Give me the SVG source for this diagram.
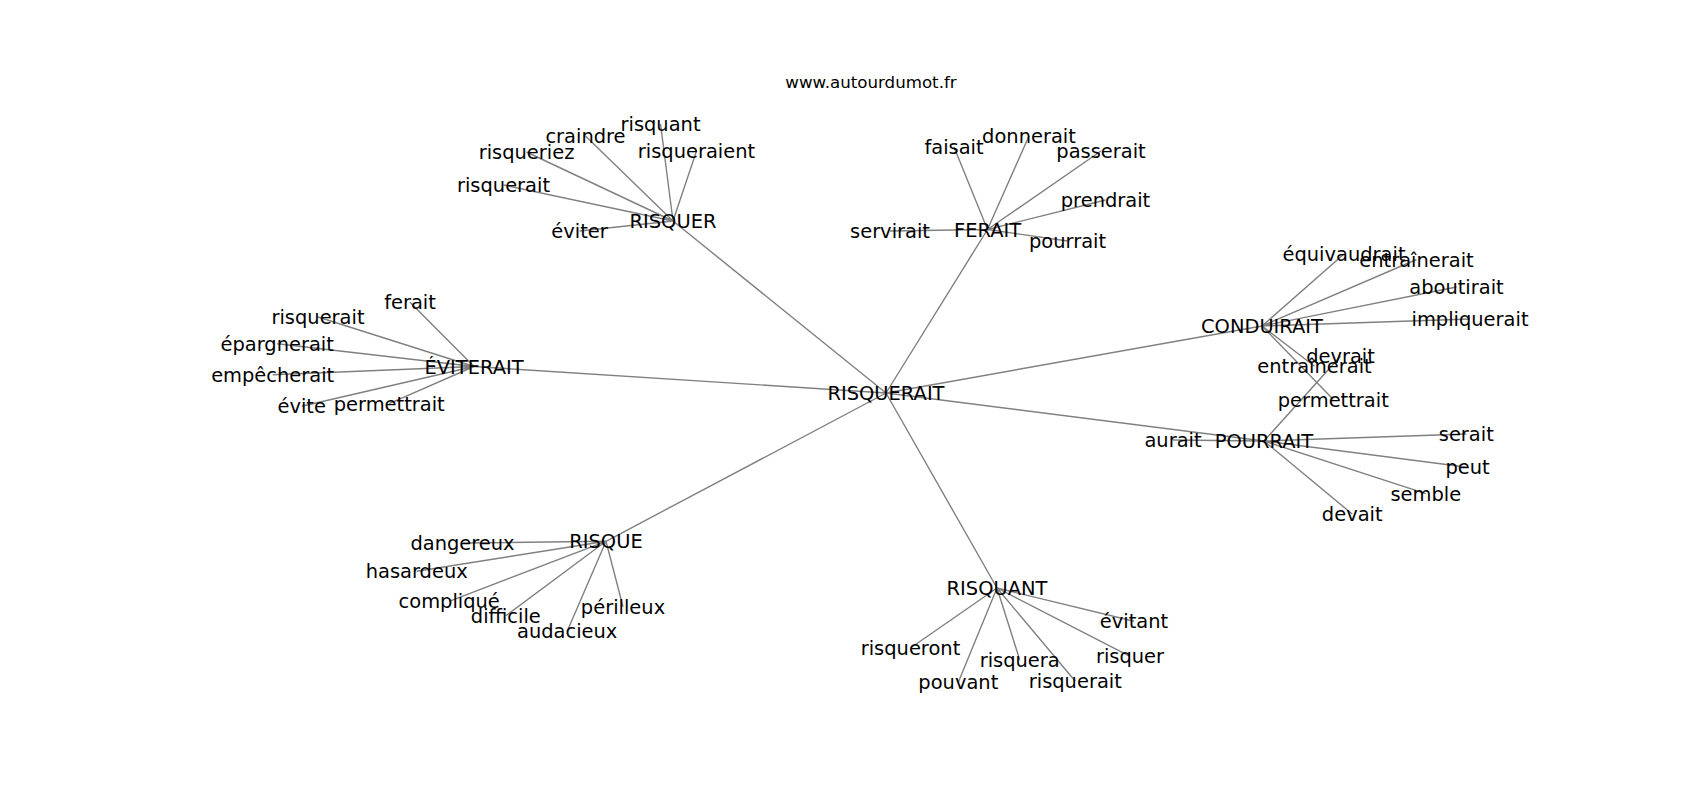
<svg xmlns="http://www.w3.org/2000/svg" width="1700" height="800" viewBox="0 0 1700 800">
<style>
.e{stroke:#808080;stroke-width:1.4;fill:none}
text{font-family:"DejaVu Sans","Liberation Sans",sans-serif;font-size:19.44px;fill:#000;text-anchor:middle}
.t{font-size:16.67px}
</style>
<rect width="1700" height="800" fill="#fff"/>
<text class="t" x="871" y="87.7">www.autourdumot.fr</text>
<g id="edges" class="e">
<path d="M886 393L673 221M886 393L987.5 229.5M886 393L1262 326M886 393L1264 441M886 393L997 588M886 393L606 541.3M886 393L474 366.5"/>
<path d="M673 221L660.5 124M673 221L585.5 136M673 221L526.5 152M673 221L696.5 151M673 221L503.5 185M673 221L579.5 231"/>
<path d="M987.5 229.5L954 147M987.5 229.5L1029 136M987.5 229.5L1101 151M987.5 229.5L1105.5 200M987.5 229.5L890 231M987.5 229.5L1067.5 241"/>
<path d="M1262 326L1344 254M1262 326L1416.5 259.5M1262 326L1456.5 287M1262 326L1470 319M1262 326L1314.5 366.3M1262 326L1333.3 399.5"/>
<path d="M1264 441L1173 440M1264 441L1466.3 434M1264 441L1467.5 467.3M1264 441L1425.8 493.7M1264 441L1352.2 514M1264 441L1340.5 356.3"/>
<path d="M997 588L1134 621.3M997 588L1130 656.3M997 588L910.5 648M997 588L1019.7 659.7M997 588L958.3 682.3M997 588L1075.3 681.3"/>
<path d="M606 541.3L462.5 543M606 541.3L416.7 571.3M606 541.3L449.2 601.3M606 541.3L505.8 615.7M606 541.3L567.2 631.3M606 541.3L623 606.7"/>
<path d="M474 366.5L410 302.3M474 366.5L318 317M474 366.5L277.2 343.7M474 366.5L272.7 374.7M474 366.5L301.7 406.3M474 366.5L389.2 403.7"/>
</g>
<g id="n-risquerait-center"><text x="886" y="400">RISQUERAIT</text></g>
<g id="n-risquer"><text x="673" y="228">RISQUER</text></g>
<g id="n-risquer-risquant"><text x="660.5" y="131">risquant</text></g>
<g id="n-risquer-craindre"><text x="585.5" y="143">craindre</text></g>
<g id="n-risquer-risqueriez"><text x="526.5" y="159">risqueriez</text></g>
<g id="n-risquer-risqueraient"><text x="696.5" y="158">risqueraient</text></g>
<g id="n-risquer-risquerait"><text x="503.5" y="192">risquerait</text></g>
<g id="n-risquer-eviter"><text x="579.5" y="238">éviter</text></g>
<g id="n-ferait"><text x="987.5" y="236.5">FERAIT</text></g>
<g id="n-ferait-faisait"><text x="954" y="154">faisait</text></g>
<g id="n-ferait-donnerait"><text x="1029" y="143">donnerait</text></g>
<g id="n-ferait-passerait"><text x="1101" y="158">passerait</text></g>
<g id="n-ferait-prendrait"><text x="1105.5" y="207">prendrait</text></g>
<g id="n-ferait-servirait"><text x="890" y="238">servirait</text></g>
<g id="n-ferait-pourrait"><text x="1067.5" y="248">pourrait</text></g>
<g id="n-conduirait"><text x="1262" y="333">CONDUIRAIT</text></g>
<g id="n-conduirait-equivaudrait"><text x="1344" y="261">équivaudrait</text></g>
<g id="n-conduirait-entrainerait1"><text x="1416.5" y="266.5">entraînerait</text></g>
<g id="n-conduirait-aboutirait"><text x="1456.5" y="294">aboutirait</text></g>
<g id="n-conduirait-impliquerait"><text x="1470" y="326">impliquerait</text></g>
<g id="n-conduirait-entrainerait2"><text x="1314.5" y="373.3">entraînerait</text></g>
<g id="n-conduirait-permettrait"><text x="1333.3" y="406.5">permettrait</text></g>
<g id="n-pourrait"><text x="1264" y="448">POURRAIT</text></g>
<g id="n-pourrait-aurait"><text x="1173" y="447">aurait</text></g>
<g id="n-pourrait-serait"><text x="1466.3" y="441">serait</text></g>
<g id="n-pourrait-peut"><text x="1467.5" y="474.3">peut</text></g>
<g id="n-pourrait-semble"><text x="1425.8" y="500.7">semble</text></g>
<g id="n-pourrait-devait"><text x="1352.2" y="521">devait</text></g>
<g id="n-pourrait-devrait"><text x="1340.5" y="363.3">devrait</text></g>
<g id="n-risquant"><text x="997" y="595">RISQUANT</text></g>
<g id="n-risquant-evitant"><text x="1134" y="628.3">évitant</text></g>
<g id="n-risquant-risquer"><text x="1130" y="663.3">risquer</text></g>
<g id="n-risquant-risqueront"><text x="910.5" y="655">risqueront</text></g>
<g id="n-risquant-risquera"><text x="1019.7" y="666.7">risquera</text></g>
<g id="n-risquant-pouvant"><text x="958.3" y="689.3">pouvant</text></g>
<g id="n-risquant-risquerait"><text x="1075.3" y="688.3">risquerait</text></g>
<g id="n-risque"><text x="606" y="548.3">RISQUE</text></g>
<g id="n-risque-dangereux"><text x="462.5" y="550">dangereux</text></g>
<g id="n-risque-hasardeux"><text x="416.7" y="578.3">hasardeux</text></g>
<g id="n-risque-complique"><text x="449.2" y="608.3">compliqué</text></g>
<g id="n-risque-difficile"><text x="505.8" y="622.7">difficile</text></g>
<g id="n-risque-audacieux"><text x="567.2" y="638.3">audacieux</text></g>
<g id="n-risque-perilleux"><text x="623" y="613.7">périlleux</text></g>
<g id="n-eviterait"><text x="474" y="373.5">ÉVITERAIT</text></g>
<g id="n-eviterait-ferait"><text x="410" y="309.3">ferait</text></g>
<g id="n-eviterait-risquerait"><text x="318" y="324">risquerait</text></g>
<g id="n-eviterait-epargnerait"><text x="277.2" y="350.7">épargnerait</text></g>
<g id="n-eviterait-empecherait"><text x="272.7" y="381.7">empêcherait</text></g>
<g id="n-eviterait-evite"><text x="301.7" y="413.3">évite</text></g>
<g id="n-eviterait-permettrait"><text x="389.2" y="410.7">permettrait</text></g>
</svg>
